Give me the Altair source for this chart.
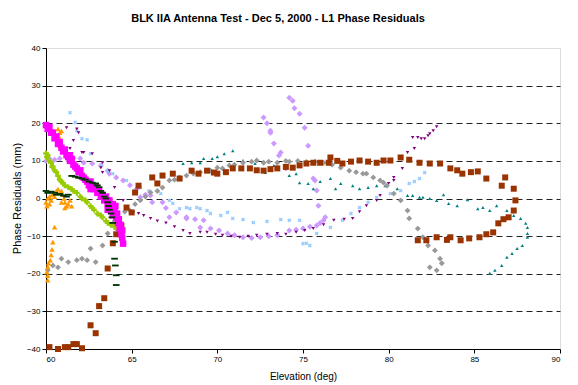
import altair as alt
import pandas as pd

# ---- data ----
magenta_x = [60.0,60.1,60.2,60.3,60.4,60.5,60.6,60.7,60.8,60.9,61.0,61.1,61.2,61.3,61.4,61.5,61.6,61.7,61.8,61.9,62.0,62.1,62.2,62.3,62.4,62.5,62.6,62.7,62.8,62.9,63.0,63.1,63.2,63.3,63.4,63.5,63.6,63.7,63.8,63.9,64.0,64.05,64.1,64.15,64.2,64.25,64.3,64.35,64.4,64.45,64.5,64.45,63.6,63.9,61.4,62.6]
magenta_y = [19.5,18.5,19,17.5,17.5,16,16.5,14.5,15,13.5,12.5,13,11.5,11,10,10.5,9,8.5,8,7,7.5,6,5.5,5,4.5,3.5,4.5,3,2.5,3,1.5,2,0.5,1,-0.5,0.5,-1.5,-0.5,-2.5,-1.5,-3.5,-2,-5,-4,-6.5,-5.5,-8,-7,-9.5,-10.5,-12,-8.5,-3,-4.5,11.5,2.5]

ygreen_x = [60.0,60.05,60.1,60.2,60.3,60.35,60.4,60.5,60.6,60.7,60.8,60.9,61.0,61.1,61.3,61.5,61.6,61.8,62.0,62.1,62.3,62.4,62.6,62.7,62.8,63.0,63.2,63.3,63.5,63.6,63.8,64.0,64.1]
ygreen_y = [12,11,11.5,10,9.5,8.5,8.5,7.5,7,6,5,4.5,4,3.5,3,2.5,2,1.5,0.5,0,-0.5,-1,-2,-2.5,-3,-4,-4.5,-5,-6,-6.5,-7,-7.5,-8]

dgreen_x = [60.0,60.1,60.3,60.5,60.6,60.8,61.0,61.2,61.3,61.5,61.7,61.9,62.1,62.3,62.5,62.7,62.9,63.0,63.1,63.2,63.3,63.4,63.5,63.6,63.65,63.7,63.8,63.85,63.9,64.0,64.0,64.05,64.1,64.1]
dgreen_y = [2,1.5,1.8,1.5,1,1.2,0.8,0.5,1,6,5.8,5.5,5.3,5,4.5,4.2,4,3.5,3,2,1.5,0.5,0,-1,-2,-3,-4,-5,-6.5,-11.5,-16,-17.8,-20.4,-23]

orange_x = [60.7,60.8,60.9,60.75,60.85,60.9,61.0,60.8,
            60.0,60.05,60.1,60.2,60.3,60.35,60.45,60.5,60.6,60.7,60.8,60.9,61.0,61.05,61.1,61.2,61.3,61.4,61.5,61.1,60.9,60.2,
            60.5,60.4,60.35,60.3,60.25,60.15,60.1,60.05,60.1,60.1]
orange_y = [18.5,17.5,18,16.5,15.5,14.5,13.5,14,
            -1,-2,0,0.5,-0.5,1,1.5,0.5,2,2.5,1.5,2,1,0,-1,-2,-1.5,-0.5,-2,-2.5,-1,-1.5,
            -7.6,-11.6,-13.5,-15,-16.4,-17.2,-18.2,-19.6,-20.5,-21.7]

grey_x = [60.1,60.4,60.7,60.9,61.3,61.8,62.1,62.4,62.6,62.9,63.3,63.6,63.8,64.0,64.3,64.6,64.9,65.2,65.5,65.8,66.1,66.5,66.8,67.2,67.5,67.8,68.2,68.6,69.0,69.6,70.0,70.3,70.7,71.0,71.5,72.0,72.3,72.7,73.0,73.5,74.0,74.2,74.7,75.2,75.7,76.2,76.7,77.2,77.7,78.1,78.5,78.7,79.1,79.5,79.7,79.9,80.3,80.7,81.1,81.2,81.7,82.0,82.3,82.7,82.4,83.0,82.8,83.1]
grey_y = [-19.1,-17.8,-18.3,-16,-16.9,-16.4,-16,-16.4,-13.3,-16.9,-12.5,-9.3,-7,-6,-5.3,-3.5,-3.2,-1.5,-0.5,0.5,1.6,2,2.9,4.8,5,5.6,6.1,6.6,7,7.4,8.2,8,8.8,9,9.5,9.8,10.1,9.5,9.8,9.5,10,9.8,10,9.7,9.8,9.5,9,8.2,7.4,7,6.6,6.6,5.6,4.8,4.2,3.4,1.3,-0.5,-3.2,-5.3,-8,-10.3,-12.5,-13.8,-18.3,-16,-19.1,-17.2]

brown_x = [60.2,60.7,61.1,61.3,61.6,61.8,62.1,62.6,62.9,63.1,63.4,63.6,63.9,64.1,64.4,64.7,65.0,65.2,65.4,66.2,66.5,66.8,67.4,67.8,68.5,68.9,69.4,69.8,70.0,70.5,70.9,71.4,71.9,72.3,72.7,73.1,73.5,74.0,74.4,74.8,75.2,75.6,76.0,76.5,76.6,77.0,77.3,77.8,78.3,78.8,79.3,79.7,80.1,80.7,81.2,81.8,82.4,83.0,83.6,84.0,84.3,84.8,85.2,85.7,86.8,86.6,87.3,87.4,87.3,87.0,86.7,86.4,86.1,85.7,85.3,84.7,84.2,83.6,83.4,82.8,82.2,81.7]
brown_y = [-39.5,-40,-39.5,-39.5,-38.7,-38.7,-39.8,-33.7,-35.8,-28.6,-26.5,-18.6,-11.9,-9.5,-7.2,-2.4,-3.7,1.6,3.4,5.6,4,6.1,6.6,5.3,7.4,6.6,7.4,6.9,6.6,7,8,8,8,7.5,7.4,7.8,8,8.4,8.2,8.8,9.3,9.5,9.5,9.5,10.9,10,9.3,9.8,10.1,9.8,9.5,10.1,10.1,10.9,10.3,9.5,9.3,9.3,8,7.5,6.6,7,7.2,5.3,5.6,3.4,2.6,-0.5,-3.2,-5,-5.5,-6.6,-9,-9.5,-10.3,-10.6,-11.1,-10.3,-11,-10.3,-11.1,-11.1]

teal_x = [68.0,68.5,69.0,69.2,69.7,70.0,70.4,70.9,71.5,72.2,72.8,73.3,74.2,74.6,74.8,75.3,75.6,76.0,76.6,76.9,77.2,77.9,78.3,78.8,79.3,79.8,80.5,81.1,81.4,81.8,82.0,82.4,82.8,83.2,83.5,84.0,84.6,85.2,85.5,85.9,86.3,86.9,87.3,87.7,88.0,88.1,88.1,88.1,87.8,87.5,87.2,86.9,86.6,86.2,85.9]
teal_y = [9.3,9.5,9.5,10.6,10.6,11.1,11.9,12.7,10.1,9.3,6.9,8.8,6.1,6.6,4.2,4,2.6,4.5,5.3,2.6,4,3.4,2.6,2.9,3.4,3.4,2.6,0.8,0.8,0.3,0.3,0,-0.5,1,-1.3,-1.9,-0.3,-2.7,-2.4,-3.2,-1.9,-3.2,-4.5,-5.3,-6.6,-7.7,-9.3,-10.3,-12.5,-13.3,-14.6,-15.6,-17.8,-19.1,-19.9]

lblue_x = [61.4,61.7,61.8,62.1,62.4,62.6,63.2,63.6,63.9,64.7,65.5,66.0,66.7,67.2,67.4,67.8,68.2,68.4,68.8,69.0,69.4,69.6,70.2,70.6,70.9,71.5,72.1,72.9,73.7,74.2,74.8,75.2,75.4,75.0,75.8,76.6,77.3,77.8,78.3,78.8,79.3,80.1,80.7,81.2,81.5,81.8,82.1]
lblue_y = [22.8,20.2,18,15.9,15.6,11.9,8.8,7.4,6.6,4.8,2.9,2,1.3,-0.5,-1.3,-2.7,-2.4,-2.7,-2.4,-2.7,-3.2,-4,-4.5,-3.7,-5.3,-5.6,-6.4,-6.1,-5.6,-5.8,-5.8,-11.9,-12.5,-12,-9.3,-7.7,-5.8,-4,-2.4,-1,0.3,1.3,2.1,4,4.5,5.3,6.9]

purple_x = [60.2,61.2,61.8,61.9,61.6,61.4,62.1,62.2,62.7,63.2,63.3,63.3,63.7,64.0,64.5,64.7,65.1,65.4,65.7,66.1,66.5,67.0,67.5,68.0,68.4,69.0,69.4,69.9,70.3,70.8,71.3,71.8,72.3,72.9,73.5,74.0,74.6,75.1,75.6,76.2,76.8,77.4,77.9,78.3,78.7,79.3,79.5,80.0,80.3,80.3,80.8,81.1,81.5,81.4,81.7,81.9,82.1,82.3,82.4,82.6,82.8]
purple_y = [17.5,18.8,18.5,17.5,15.4,13.3,12.2,12.2,11.9,8.2,9.5,6.9,7.4,2.9,-0.5,-2.4,-3.7,-4,-4.5,-5.3,-6,-6.5,-7.5,-8.5,-9.3,-9,-9,-9.5,-9.8,-10,-10.3,-10,-9.8,-9.5,-9.3,-9.5,-9,-8.5,-8,-7,-5.8,-5.5,-5.3,-3.5,-1.9,-0.5,0.8,4,4.8,5.6,8,12.2,13.3,16.2,16.2,15.9,15.9,16.7,17.2,18,19.1]

lpurple_x = [60.0,60.2,60.5,60.8,61.2,61.6,62.0,62.2,62.7,63.2,63.6,63.7,64.1,64.5,64.9,65.3,65.5,65.8,66.1,66.2,66.8,67.0,67.6,68.2,68.2,67.2,68.7,69.2,69.0,69.6,70.1,70.6,71.0,71.5,72.0,72.5,73.0,73.5,74.2,74.6,75.0,75.4,75.8,76.2,76.3,76.0,
             72.7,72.9,73.1,73.1,73.3,73.6,73.7,74.0,74.2,74.4,74.5,74.8,75.1,75.3,75.6,75.7,75.8,75.9]
lpurple_y = [10,10.6,10.3,10.6,10.9,10.6,10.6,9.5,9.3,8.8,7.4,6.6,5.6,4.8,3.5,2.6,0.3,1,0.8,-1,-1,-2.5,-3.7,-5,-5.3,-5,-5.5,-5.8,-7.7,-8,-8.5,-9.3,-9.8,-10.3,-10.5,-10.3,-10,-9.8,-8.5,-8.3,-8,-7.5,-7.2,-5.8,-5,-6.5,
             21.5,20,17.5,18,14.6,11.4,12.2,8,26.8,26,24,22.5,18.8,14,5.3,4.8,2.1,-1.9]

y_ticks = [-40, -30, -20, -10, 0, 10, 20, 30, 40]
x_ticks = [60, 65, 70, 75, 80, 85, 90]

DASH = "M-1,-0.28L1,-0.28L1,0.28L-1,0.28Z"

# (x, y, color, shape, size, angle)
series = [
    (lpurple_x, lpurple_y, "#CC99FF", "diamond", 36, 0),
    (lblue_x, lblue_y, "#99CCFF", "cross", 16, 45),
    (purple_x, purple_y, "#800080", "triangle-down", 12, 0),
    (teal_x, teal_y, "#008080", "triangle-up", 12, 0),
    (grey_x, grey_y, "#999999", "diamond", 34, 0),
    (brown_x, brown_y, "#993300", "square", 36, 0),
    (orange_x, orange_y, "#FF9900", "triangle-up", 30, 0),
    (ygreen_x, ygreen_y, "#99CC00", "cross", 32, 0),
    (magenta_x, magenta_y, "#FF00FF", "square", 42, 0),
    (dgreen_x, dgreen_y, "#003300", DASH, 44, 0),
]

xscale = alt.Scale(domain=[60, 90], nice=False, zero=False)
yscale = alt.Scale(domain=[-40, 40], nice=False, zero=False)

FONT = "Liberation Sans"

xaxis = alt.Axis(values=x_ticks, title="Elevation (deg)", grid=False,
                 domainColor="black", tickColor="black", tickSize=4,
                 labelFont=FONT, labelFontSize=8, labelColor="black", labelPadding=2,
                 titleFont=FONT, titleFontSize=10, titleFontWeight="normal", titleColor="black",
                 titleX=257, titleY=27, titleBaseline="middle")
yaxis = alt.Axis(values=y_ticks, title="Phase Residuals (mm)",
                 grid=True, gridColor="#222222", gridDash=[6, 4], gridWidth=1,
                 gridOpacity={"condition": {"test": "abs(datum.value) == 40", "value": 0}, "value": 1},
                 domainColor="black", tickColor="black", tickSize=4,
                 labelFont=FONT, labelFontSize=8, labelColor="black", labelPadding=2,
                 titleFont=FONT, titleFontSize=11, titleFontWeight="normal", titleColor="black",
                 titleX=-29, titleY=150, titleAngle=-90, titleAlign="center", titleBaseline="middle")

frames = []
for xs, ys, color, shape, size, angle in series:
    frames.append(pd.DataFrame({"elev": xs, "res": ys, "color": color}))
data = pd.concat(frames, ignore_index=True)

base = alt.Chart(data)

layers = []
for xs, ys, color, shape, size, angle in series:
    layers.append(
        base.transform_filter(alt.datum.color == color).mark_point(
            filled=True, shape=shape, size=size, color=color,
            opacity=1, angle=angle, strokeWidth=0).encode(
            x=alt.X("elev:Q", scale=xscale, axis=xaxis),
            y=alt.Y("res:Q", scale=yscale, axis=yaxis),
        )
    )

chart = alt.layer(*layers).properties(
    width=514, height=301,
    padding={"left": 38, "top": 40, "right": 10, "bottom": 36},
    autosize=alt.AutoSizeParams(type="none"),
    title=alt.TitleParams("BLK IIA Antenna Test - Dec 5, 2000 - L1 Phase Residuals",
                          font=FONT, fontSize=11, fontWeight="bold", color="black",
                          anchor="middle", dx=-25, offset=20),
).configure_view(stroke="#999999", strokeWidth=1).configure(background="white")

chart.save("out.html", embed_options={"renderer": "svg", "actions": False})
